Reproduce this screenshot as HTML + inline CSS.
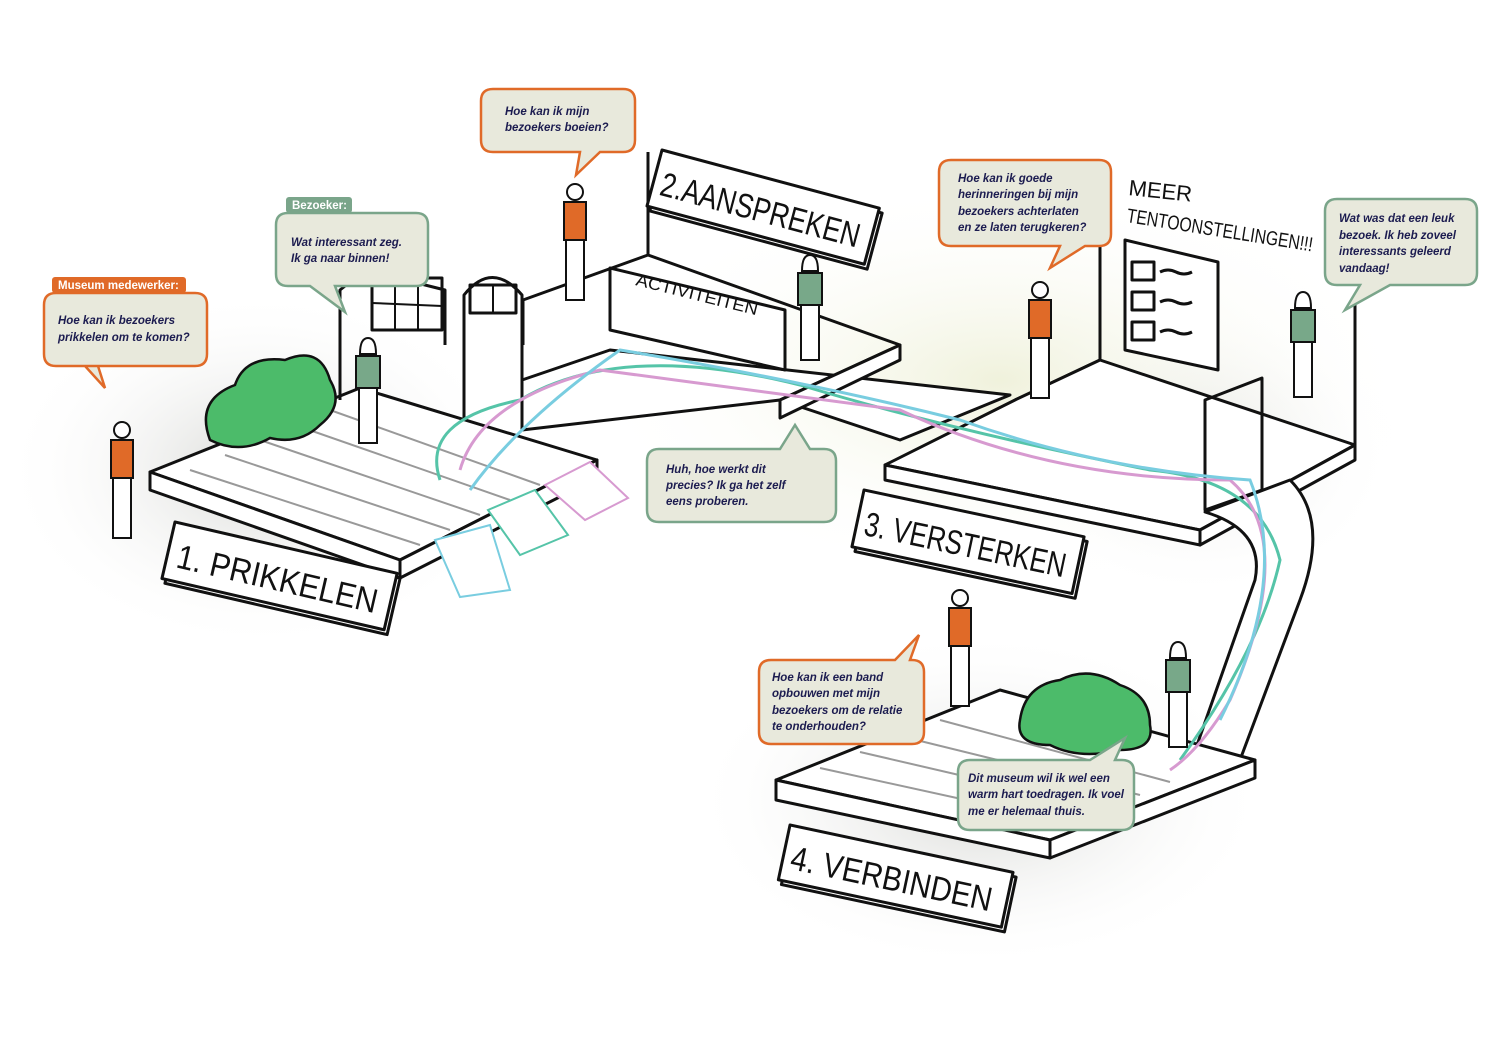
<!DOCTYPE html>
<html><head><meta charset="utf-8"><style>
html,body{margin:0;padding:0;background:#fff;}
svg{display:block}
.b{font-family:"Liberation Sans",sans-serif;font-style:italic;font-weight:bold;font-size:11.5px;fill:#1c1c50}
.t{font-family:"Liberation Sans",sans-serif;font-weight:bold;font-size:11.5px;fill:#fff}
.s{font-family:"Liberation Sans",sans-serif;font-size:34px;fill:#111}
.k{fill:none;stroke:#111;stroke-width:3;stroke-linejoin:round}
.w{fill:#fff;stroke:#111;stroke-width:3;stroke-linejoin:round}
</style></head><body>
<svg width="1500" height="1061" viewBox="0 0 1500 1061" xmlns="http://www.w3.org/2000/svg">
<defs>
<radialGradient id="g"><stop offset="0" stop-color="#cfd0cc" stop-opacity=".8"/><stop offset="1" stop-color="#fff" stop-opacity="0"/></radialGradient>
<radialGradient id="y"><stop offset="0" stop-color="#eef0d8" stop-opacity=".9"/><stop offset="1" stop-color="#fff" stop-opacity="0"/></radialGradient>
<g id="fo" stroke="#111" stroke-width="2">
<circle cx="0" cy="0" r="8" fill="#fff"/><rect x="-11" y="10" width="22" height="38" fill="#e06a28"/>
<rect x="-9" y="48" width="18" height="60" fill="#fff"/>
</g>
<g id="fg" stroke="#111" stroke-width="2">
<path d="M-8,6 Q-8,-10 0,-10 Q8,-10 8,6Z" fill="#fff"/><rect x="-12" y="8" width="24" height="32" fill="#78a889"/>
<rect x="-9" y="40" width="18" height="55" fill="#fff"/>
</g>
</defs>
<rect width="1500" height="1061" fill="#fff"/>
<ellipse cx="260" cy="470" rx="260" ry="180" fill="url(#g)"/>
<ellipse cx="1000" cy="380" rx="420" ry="200" fill="url(#y)"/>
<ellipse cx="980" cy="800" rx="290" ry="170" fill="url(#g)"/>
<ellipse cx="1200" cy="450" rx="200" ry="150" fill="url(#g)" opacity=".6"/>

<!-- platform 1 -->
<polygon class="w" points="150,472 360,388 597,460 400,560"/>
<polygon class="w" points="150,472 400,560 400,578 150,490"/>
<polygon class="w" points="400,560 597,460 597,478 400,578"/>
<g stroke="#999" stroke-width="2">
<line x1="190" y1="470" x2="420" y2="545"/><line x1="225" y1="455" x2="450" y2="530"/><line x1="260" y1="440" x2="480" y2="515"/><line x1="295" y1="425" x2="510" y2="500"/><line x1="330" y1="410" x2="540" y2="485"/>
</g>
<!-- building 1 -->
<polyline class="k" points="340,400 340,290 365,270 445,290 445,345"/>
<rect x="372" y="278" width="70" height="52" class="k" stroke-width="2.5"/>
<g stroke="#111" stroke-width="2"><line x1="395" y1="280" x2="395" y2="330"/><line x1="418" y1="282" x2="418" y2="330"/><line x1="372" y1="303" x2="442" y2="306"/></g>
<path class="w" d="M464,418 L464,295 Q492,260 522,295 L522,408"/>
<rect x="470" y="285" width="46" height="28" class="k" stroke-width="2"/>
<line x1="493" y1="285" x2="493" y2="313" stroke="#111" stroke-width="2"/>
<!-- bush -->
<path d="M210,440 Q195,400 235,385 Q245,355 285,360 Q320,345 330,380 Q345,405 320,425 Q300,445 270,438 Q240,455 210,440Z" fill="#4cbb6a" stroke="#111" stroke-width="2.5"/>
<!-- walkway -->
<polygon class="w" points="522,380 610,350 1010,395 900,440 780,400 522,430"/>
<!-- platform 2 -->
<polyline class="k" points="648,152 648,255 523,300 523,345"/>
<polyline class="k" points="648,255 900,345 780,400"/>
<polygon class="w" points="610,268 785,310 785,370 610,330"/>
<text x="635" y="285" font-family="Liberation Sans" font-size="17" fill="#111" transform="rotate(14 635 285)" textLength="125" lengthAdjust="spacingAndGlyphs">ACTIVITEITEN</text>
<polygon class="w" points="780,400 900,345 900,360 780,418"/>
<!-- platform 3 -->
<polyline class="k" points="1100,240 1100,360 1015,400"/>
<polyline class="k" points="1355,300 1355,445"/>
<polygon class="w" points="885,465 1015,400 1100,360 1355,445 1200,530"/>
<polygon class="w" points="885,465 1200,530 1200,545 885,480"/>
<polygon class="w" points="1200,530 1355,445 1355,460 1200,545"/>
<polygon class="w" points="1125,240 1218,262 1218,370 1125,350"/>
<g class="k" stroke-width="2"><rect x="1132" y="262" width="22" height="18"/><rect x="1132" y="292" width="22" height="18"/><rect x="1132" y="322" width="22" height="18"/>
<path d="M1160,272 q8,-4 16,0 t16,0 M1160,302 q8,-4 16,0 t16,0 M1160,332 q8,-4 16,0 t16,0"/></g>
<polygon class="k" points="1205,400 1262,378 1262,490 1205,510"/>
<!-- stairs -->
<path class="w" d="M1205,512 L1290,480 Q1330,520 1300,600 L1240,760 L1190,765 L1255,580 Q1265,530 1205,512Z"/>
<!-- platform 4 -->
<polygon class="w" points="776,780 1000,690 1255,760 1050,840"/>
<polygon class="w" points="776,780 1050,840 1050,858 776,800"/>
<polygon class="w" points="1050,840 1255,760 1255,778 1050,858"/>
<g stroke="#999" stroke-width="2">
<line x1="820" y1="768" x2="1080" y2="825"/><line x1="860" y1="752" x2="1110" y2="810"/><line x1="900" y1="736" x2="1140" y2="795"/><line x1="940" y1="720" x2="1170" y2="782"/>
</g>
<path d="M1020,720 Q1025,685 1060,680 Q1090,665 1120,685 Q1150,695 1150,725 Q1155,750 1120,750 Q1080,760 1050,745 Q1015,745 1020,720Z" fill="#4cbb6a" stroke="#111" stroke-width="2.5"/>

<!-- paths -->
<g fill="none" stroke-width="3">
<path d="M440,480 Q420,420 520,400 Q620,340 800,385 Q950,430 1150,470 Q1260,480 1280,560 Q1260,650 1180,760" stroke="#55c4a8"/>
<path d="M460,470 Q480,400 600,370 Q750,390 900,410 Q1050,480 1230,480 Q1300,540 1230,700 Q1200,750 1170,770" stroke="#d79ad0"/>
<path d="M470,490 Q520,420 620,350 Q800,380 960,420 Q1100,470 1250,480 Q1290,580 1220,720" stroke="#79cde0"/>
</g>
<!-- cards -->
<polygon points="435,540 490,525 510,590 460,597" fill="#fff" stroke="#79cde0" stroke-width="2"/>
<polygon points="488,510 535,490 568,535 520,555" fill="#fff" stroke="#55c4a8" stroke-width="2"/>
<polygon points="545,485 590,462 628,498 585,520" fill="#fff" stroke="#d79ad0" stroke-width="2"/>

<!-- figures -->
<use href="#fo" x="122" y="430"/><use href="#fo" x="575" y="192"/><use href="#fo" x="1040" y="290"/><use href="#fo" x="960" y="598"/>
<use href="#fg" x="368" y="348"/><use href="#fg" x="810" y="265"/><use href="#fg" x="1303" y="302"/><use href="#fg" x="1178" y="652"/>

<!-- signs -->
<g transform="translate(175,522) rotate(13)"><rect x="4" y="4" width="228" height="58" class="w"/><rect width="228" height="58" class="w"/><text x="10" y="44" class="s" textLength="205" lengthAdjust="spacingAndGlyphs">1. PRIKKELEN</text></g>
<g transform="translate(662,150) rotate(15)"><rect x="4" y="4" width="225" height="58" class="w"/><rect width="225" height="58" class="w"/><text x="8" y="44" class="s" textLength="205" lengthAdjust="spacingAndGlyphs">2.AANSPREKEN</text></g>
<g transform="translate(864,490) rotate(12)"><rect x="4" y="4" width="225" height="58" class="w"/><rect width="225" height="58" class="w"/><text x="8" y="44" class="s" textLength="205" lengthAdjust="spacingAndGlyphs">3. VERSTERKEN</text></g>
<g transform="translate(790,825) rotate(12)"><rect x="4" y="4" width="228" height="56" class="w"/><rect width="228" height="56" class="w"/><text x="8" y="43" class="s" textLength="205" lengthAdjust="spacingAndGlyphs">4. VERBINDEN</text></g>
<text x="1128" y="195" font-family="Liberation Sans" font-size="22" fill="#111" transform="rotate(6 1128 195)">MEER</text>
<text x="1126" y="222" font-family="Liberation Sans" font-size="20" fill="#111" transform="rotate(9 1126 222)" textLength="188" lengthAdjust="spacingAndGlyphs">TENTOONSTELLINGEN!!!</text>

<!-- bubbles -->
<g stroke-width="2.5" fill="#e8e9dc">
<path d="M56,293 H195 Q207,293 207,305 V354 Q207,366 195,366 H85 L105,388 L98,366 H56 Q44,366 44,354 V305 Q44,293 56,293Z" stroke="#e06a28"/>
<path d="M288,213 H416 Q428,213 428,225 V274 Q428,286 416,286 H335 L345,312 L310,286 H288 Q276,286 276,274 V225 Q276,213 288,213Z" stroke="#7aa58a"/>
<path d="M493,89 H623 Q635,89 635,101 V140 Q635,152 623,152 H600 L576,175 L580,152 H493 Q481,152 481,140 V101 Q481,89 493,89Z" stroke="#e06a28"/>
<path d="M951,160 H1099 Q1111,160 1111,172 V234 Q1111,246 1099,246 H1085 L1050,268 L1060,246 H951 Q939,246 939,234 V172 Q939,160 951,160Z" stroke="#e06a28"/>
<path d="M1337,199 H1465 Q1477,199 1477,211 V273 Q1477,285 1465,285 H1390 L1345,310 L1360,285 H1337 Q1325,285 1325,273 V211 Q1325,199 1337,199Z" stroke="#7aa58a"/>
<path d="M659,449 H780 L795,425 L810,449 H824 Q836,449 836,461 V510 Q836,522 824,522 H659 Q647,522 647,510 V461 Q647,449 659,449Z" stroke="#7aa58a"/>
<path d="M771,660 H895 L919,635 L910,660 H912 Q924,660 924,672 V732 Q924,744 912,744 H771 Q759,744 759,732 V672 Q759,660 771,660Z" stroke="#e06a28"/>
<path d="M970,760 H1090 L1125,738 L1115,760 H1122 Q1134,760 1134,772 V818 Q1134,830 1122,830 H970 Q958,830 958,818 V772 Q958,760 970,760Z" stroke="#7aa58a"/>
</g>
<rect x="52" y="277" width="134" height="16" rx="3" fill="#e06a28"/><text x="58" y="289" class="t">Museum medewerker:</text>
<rect x="286" y="197" width="66" height="16" rx="3" fill="#7aa58a"/><text x="292" y="209" class="t">Bezoeker:</text>
<text class="b"><tspan x="58" y="324">Hoe kan ik bezoekers</tspan><tspan x="58" y="341">prikkelen om te komen?</tspan></text>
<text class="b"><tspan x="291" y="246">Wat interessant zeg.</tspan><tspan x="291" y="262">Ik ga naar binnen!</tspan></text>
<text class="b"><tspan x="505" y="115">Hoe kan ik mijn</tspan><tspan x="505" y="131">bezoekers boeien?</tspan></text>
<text class="b"><tspan x="958" y="182">Hoe kan ik goede</tspan><tspan x="958" y="198">herinneringen bij mijn</tspan><tspan x="958" y="215">bezoekers achterlaten</tspan><tspan x="958" y="231">en ze laten terugkeren?</tspan></text>
<text class="b"><tspan x="1339" y="222">Wat was dat een leuk</tspan><tspan x="1339" y="239">bezoek. Ik heb zoveel</tspan><tspan x="1339" y="255">interessants geleerd</tspan><tspan x="1339" y="272">vandaag!</tspan></text>
<text class="b"><tspan x="666" y="473">Huh, hoe werkt dit</tspan><tspan x="666" y="489">precies? Ik ga het zelf</tspan><tspan x="666" y="505">eens proberen.</tspan></text>
<text class="b"><tspan x="772" y="681">Hoe kan ik een band</tspan><tspan x="772" y="697">opbouwen met mijn</tspan><tspan x="772" y="714">bezoekers om de relatie</tspan><tspan x="772" y="730">te onderhouden?</tspan></text>
<text class="b"><tspan x="968" y="782">Dit museum wil ik wel een</tspan><tspan x="968" y="798">warm hart toedragen. Ik voel</tspan><tspan x="968" y="815">me er helemaal thuis.</tspan></text>
</svg>
</body></html>
